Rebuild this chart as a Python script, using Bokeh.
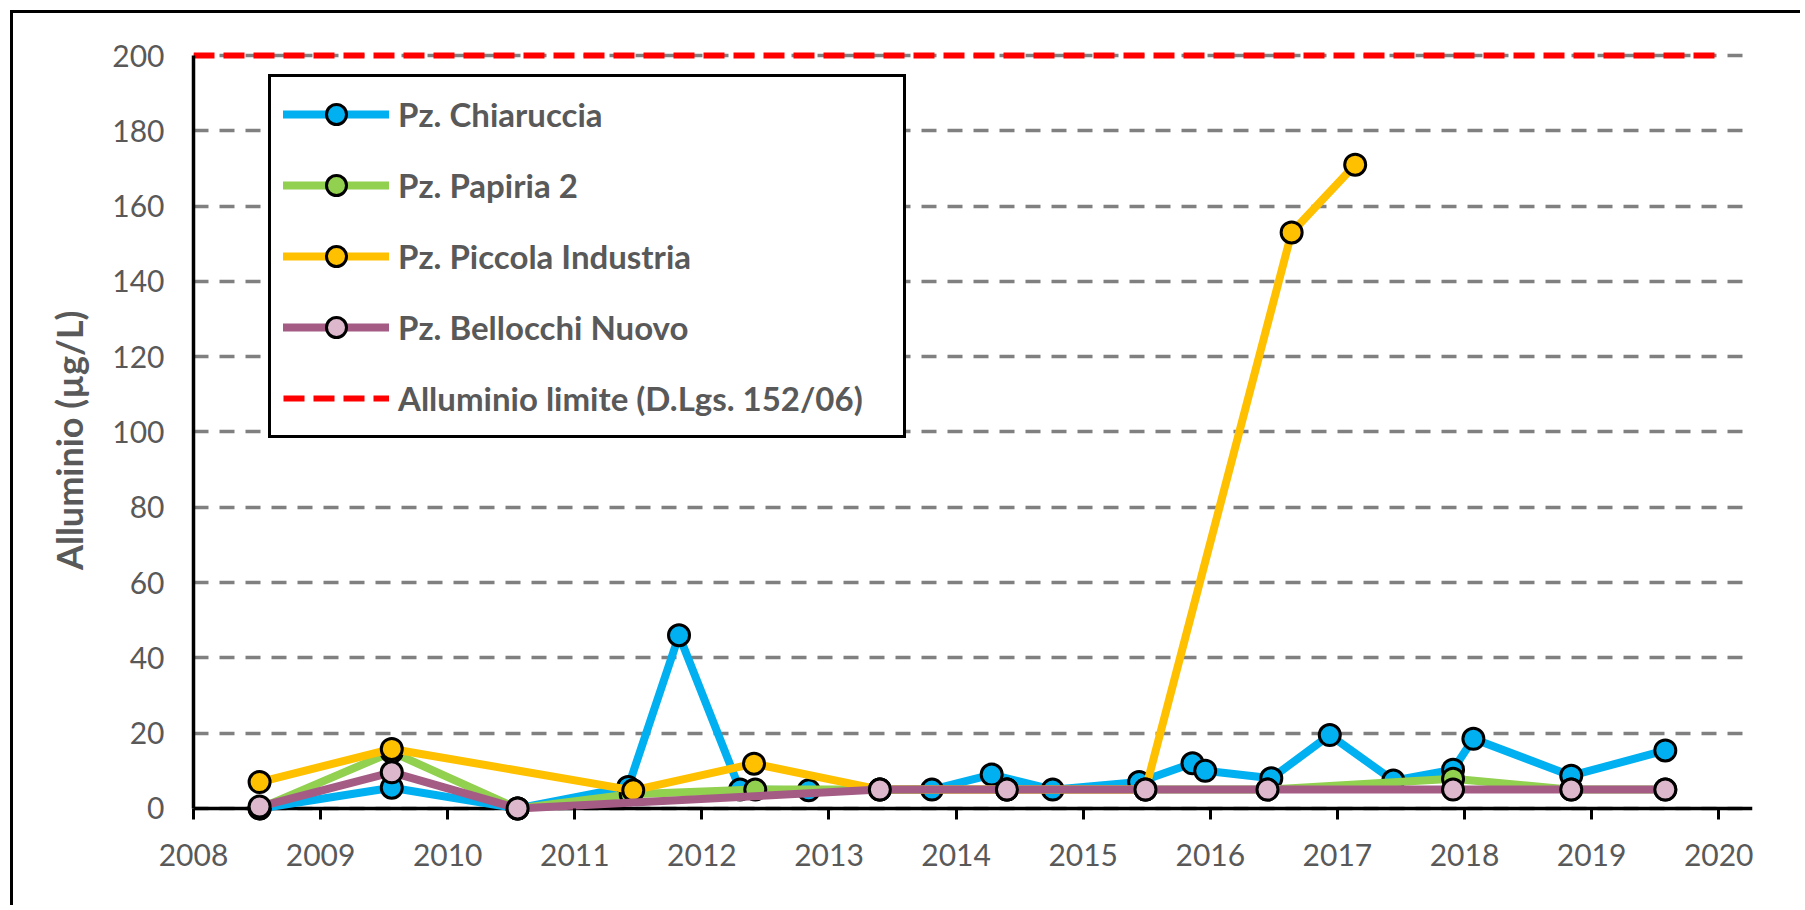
from bokeh.plotting import figure
from bokeh.models import Range1d, Span, Legend, LegendItem, FixedTicker
from bokeh.embed import file_html
from bokeh.resources import INLINE

# ---- data ----
years_ticks = [2008, 2009, 2010, 2011, 2012, 2013, 2014, 2015, 2016, 2017, 2018, 2019, 2020]
value_ticks = [0, 20, 40, 60, 80, 100, 120, 140, 160, 180, 200]

chiaruccia_x = [2008.52, 2009.56, 2010.55, 2011.42, 2011.82, 2012.30, 2012.84, 2013.81, 2014.28,
                2014.76, 2015.44, 2015.86, 2015.96, 2016.48, 2016.94, 2017.44, 2017.91, 2018.07,
                2018.84, 2019.58]
chiaruccia_y = [0, 5.5, 0, 5.7, 46, 5, 4.8, 5, 9, 5, 7, 12, 10, 8, 19.5, 7.4, 10.3, 18.5, 8.7, 15.4]

papiria_x = [2008.52, 2009.56, 2010.55, 2011.44, 2012.42, 2013.40, 2014.40, 2015.49, 2016.45,
             2017.91, 2018.84, 2019.58]
papiria_y = [0, 15, 0, 3.8, 5, 5, 5, 5, 5, 7.9, 5, 5]

piccola_x = [2008.52, 2009.56, 2011.46, 2012.41, 2013.40, 2014.40, 2015.49, 2016.64, 2017.14]
piccola_y = [7, 15.8, 4.8, 11.9, 5, 5, 5, 153, 171]

bellocchi_x = [2008.52, 2009.56, 2010.55, 2013.40, 2014.40, 2015.49, 2016.45, 2017.91, 2018.84, 2019.58]
bellocchi_y = [0.5, 9.6, 0, 5, 5, 5, 5, 5, 5, 5]

limit_x = [2008, 2020]
limit_y = [200, 200]

series_names = ["Pz. Chiaruccia", "Pz. Papiria 2", "Pz. Piccola Industria", "Pz. Bellocchi Nuovo"]
limit_name = "Alluminio limite (D.Lgs. 152/06)"
y_title = "Alluminio  (µg/L)"

# ---- styling ----
TEXT = "#595959"
FONT = "Lato"

p = figure(width=1790, height=895,
           x_range=Range1d(2008, 2020.266), y_range=Range1d(-4, 201.86),
           output_backend="svg", toolbar_location=None,
           min_border_left=180, min_border_right=51, min_border_top=35, min_border_bottom=85)
p.styles = {"margin-left": "10px", "margin-top": "10px",
            "border-left": "3px solid black", "border-top": "3px solid black"}
p.outline_line_color = None
p.background_fill_color = "white"
p.border_fill_color = "white"

# grid
p.xgrid.visible = False
p.ygrid.ticker = FixedTicker(ticks=value_ticks)
p.ygrid.grid_line_color = "#808080"
p.ygrid.grid_line_width = 3.5
p.ygrid.grid_line_dash = "15 11"

# y axis
yax = p.yaxis[0]
yax.ticker = FixedTicker(ticks=value_ticks)
yax.bounds = (0, 200)
yax.axis_line_color = "black"
yax.axis_line_width = 3.5
yax.major_tick_line_color = None
yax.minor_tick_line_color = None
yax.major_tick_in = 0
yax.major_tick_out = 0
yax.major_label_standoff = 29
yax.major_label_text_font = FONT
yax.major_label_text_font_size = "30px"
yax.major_label_text_color = TEXT
yax.axis_label = y_title
yax.axis_label_text_font = FONT
yax.axis_label_text_font_style = "bold"
yax.axis_label_text_font_size = "36px"
yax.axis_label_text_color = TEXT
yax.axis_label_standoff = 18

# x axis
xax = p.xaxis[0]
xax.ticker = FixedTicker(ticks=years_ticks)
xax.axis_line_color = None
xax.minor_tick_line_color = None
xax.major_tick_line_color = "black"
xax.major_tick_line_width = 3
xax.major_tick_in = 15
xax.major_tick_out = -4
xax.major_label_standoff = 20
xax.major_label_text_font = FONT
xax.major_label_text_font_size = "30px"
xax.major_label_text_color = TEXT

# x axis line at value 0
p.add_layout(Span(location=0, dimension="width", line_color="black", line_width=3.5, level="underlay"))

colors = [("#00B0F0", "#00B0F0"), ("#92D050", "#92D050"), ("#FFC000", "#FFC000"), ("#A45C85", "#DDB8CC")]
xs = [chiaruccia_x, papiria_x, piccola_x, bellocchi_x]
ys = [chiaruccia_y, papiria_y, piccola_y, bellocchi_y]

items = []
for name, (lc, fc), x, y in zip(series_names, colors, xs, ys):
    lr = p.line(x, y, line_color=lc, line_width=8, line_cap="round", line_join="round")
    sr = p.scatter(x, y, size=21, fill_color=fc, line_color="black", line_width=3)
    items.append(LegendItem(label=name, renderers=[lr, sr]))

limr = p.line(limit_x, limit_y, line_color="#FF0000", line_width=6, line_dash="21 9")
items.append(LegendItem(label=limit_name, renderers=[limr]))

legend = Legend(items=items, location=(75, 385),
                glyph_width=106, glyph_height=50, label_height=50, label_width=493,
                label_standoff=9, spacing=21, padding=12, margin=0,
                label_text_font=FONT, label_text_font_style="bold",
                label_text_font_size="33px", label_text_color=TEXT,
                border_line_color="black", border_line_width=3, border_line_alpha=1.0,
                background_fill_color="white", background_fill_alpha=1.0)
p.add_layout(legend, "center")

open("out.html", "w").write(file_html(p, INLINE))
